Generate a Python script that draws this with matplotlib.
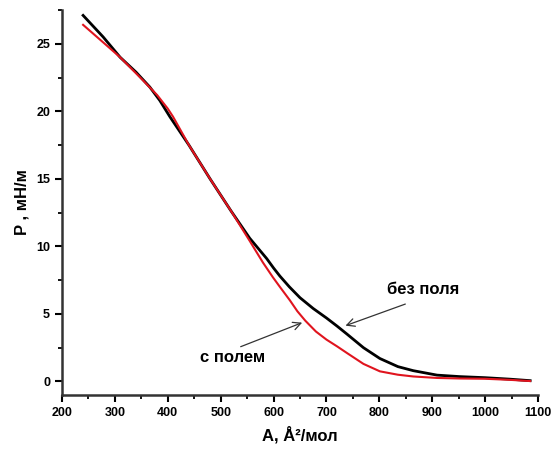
import matplotlib
matplotlib.use("Agg")
import matplotlib.pyplot as plt
from matplotlib.ticker import MultipleLocator

plt.rcParams["font.family"] = ["Liberation Sans", "DejaVu Sans"]
plt.rcParams["font.weight"] = "bold"

# isotherm without field (black)
area_nofield = [240, 278, 310, 340, 366, 385, 404, 440, 480, 520, 555, 587, 600, 612, 630,
                650, 675, 700, 720, 739, 770, 801, 835, 864, 909, 952, 1000, 1047, 1085]
p_nofield = [27.1, 25.5, 24.0, 22.9, 21.8, 20.8, 19.6, 17.5, 15.0, 12.6, 10.6, 9.1, 8.4, 7.8, 7.0,
             6.2, 5.4, 4.7, 4.1, 3.5, 2.5, 1.7, 1.1, 0.8, 0.47, 0.36, 0.28, 0.17, 0.06]

# isotherm with field (red)
area_field = [240, 278, 310, 353, 380, 400, 410, 440, 480, 520, 555, 580, 599, 612, 631,
              645, 660, 680, 700, 720, 739, 770, 801, 835, 864, 909, 952, 1000, 1047, 1085]
p_field = [26.4, 25.1, 24.0, 22.3, 21.2, 20.2, 19.6, 17.5, 15.0, 12.6, 10.4, 8.8, 7.7, 7.0, 6.0,
           5.2, 4.5, 3.7, 3.1, 2.6, 2.1, 1.3, 0.75, 0.5, 0.37, 0.26, 0.22, 0.2, 0.12, 0.03]

fig = plt.figure(figsize=(5.53, 4.54), dpi=100)
ax = fig.add_axes([0.112, 0.130, 0.861, 0.848])

ax.plot(area_nofield, p_nofield, color="black", lw=2.0)
ax.plot(area_field, p_field, color="#e0141e", lw=1.5)

ax.set_xlim(200, 1100)
ax.set_ylim(-1, 27.5)
ax.xaxis.set_major_locator(MultipleLocator(100))
ax.xaxis.set_minor_locator(MultipleLocator(50))
ax.yaxis.set_major_locator(MultipleLocator(5))
ax.yaxis.set_minor_locator(MultipleLocator(2.5))

for s in ["top", "right"]:
    ax.spines[s].set_visible(False)
for s in ["left", "bottom"]:
    ax.spines[s].set_linewidth(1.8)
    ax.spines[s].set_color("#333333")

ax.tick_params(which="major", direction="out", length=5, width=1.5, labelsize=9)
ax.tick_params(which="minor", direction="out", length=3, width=1.3)
for lbl in ax.get_xticklabels() + ax.get_yticklabels():
    lbl.set_fontweight("bold")

ax.set_xlabel("A, Å²/мол", fontsize=12, fontweight="bold", labelpad=5)
ax.set_ylabel("P , мН/м", fontsize=12, fontweight="bold", labelpad=5)

arrow = dict(arrowstyle="->", color="#333333", lw=0.9, mutation_scale=14)
ax.annotate("", xy=(731, 4.06), xytext=(854, 5.8), arrowprops=arrow)
ax.text(882, 6.8, "без поля", ha="center", va="center", fontsize=12, fontweight="bold")
ax.annotate("", xy=(659, 4.43), xytext=(533, 2.5), arrowprops=arrow)
ax.text(523, 1.77, "с полем", ha="center", va="center", fontsize=12, fontweight="bold")

fig.savefig("out.png", dpi=100)
